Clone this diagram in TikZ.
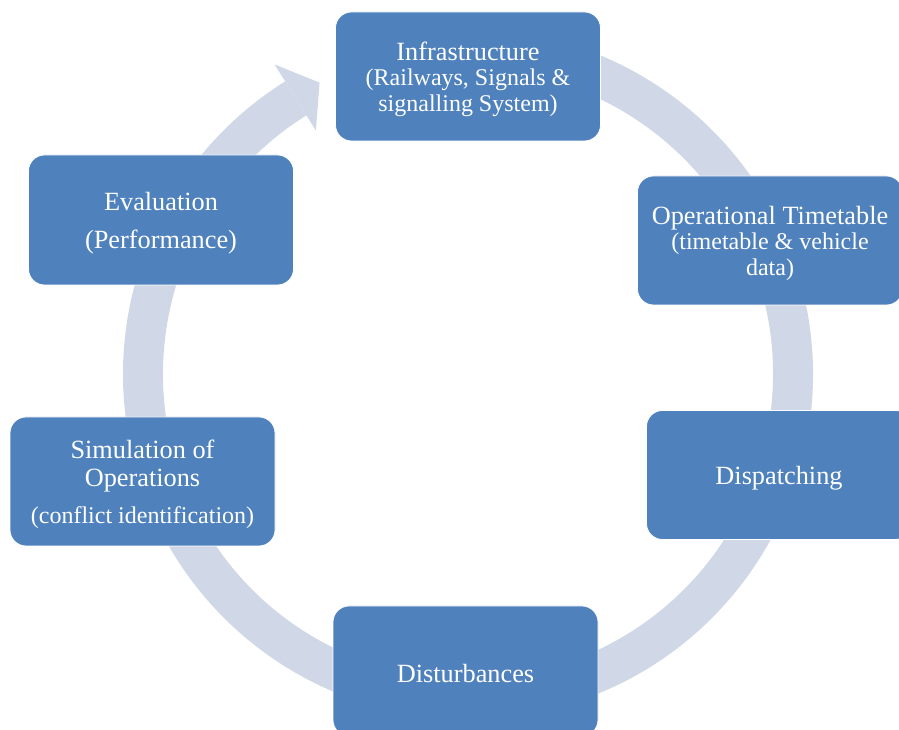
\documentclass[tikz,border=0pt]{standalone}
\usepackage{fontspec}
\setmainfont{Liberation Serif}
\usetikzlibrary{calc}
\definecolor{boxblue}{HTML}{4F81BD}
\definecolor{ringblue}{HTML}{D0D8E8}
\tikzset{
  stage/.style={rectangle, rounded corners=16pt, fill=boxblue, draw=white,
    line width=0.8pt, minimum width=265pt, minimum height=129pt,
    text=white, align=center, inner sep=0pt},
  big/.style={font=\fontsize{26.3}{#1}\selectfont},
}
\newcommand{\subline}{\fontsize{24}{25.5}\selectfont}
% raises the first line a little so the text block sits centred in the box
\newcommand{\topstrut}{\rule{0pt}{24pt}}
\begin{document}
\begin{tikzpicture}[x=1pt,y=1pt]
\clip (0,0) rectangle (899,730);
\fill[white] (0,0) rectangle (899,730);
% centre of the cycle ring
\coordinate (c) at (468,356);
% ring with its arrowhead, drawn behind the stages
\fill[ringblue] ($(c)+(100:345pt)$) arc[start angle=100, end angle=-238, radius=345pt]
  -- ($(c)+(-238:305pt)$) arc[start angle=-238, end angle=100, radius=305pt] -- cycle;
\fill[ringblue] ($(c)+(122:287pt)$) -- ($(c)+(117:327pt)$) -- ($(c)+(122:365pt)$) -- cycle;
% stages
\node[stage, big=25.5] (infra) at (468,653.5)
  {\topstrut Infrastructure\\ \subline(Railways, Signals \&\\ \subline signalling System)};
\node[stage, big=25.5] (timetable) at (770,489.5)
  {\topstrut Operational Timetable\\ \subline(timetable \& vehicle\\ \subline data)};
\node[stage, big=26] (dispatch) at (779,255) {\topstrut Dispatching};
\node[stage, big=26, minimum height=130pt] (disturb) at (465.5,59) {\topstrut Disturbances};
\node[stage, big=28] (sim) at (142.5,248.5)
  {\topstrut Simulation of\\ Operations\\[9pt] \subline(conflict identification)};
\node[stage, big=38, minimum height=130pt] (eval) at (161,510)
  {\topstrut Evaluation\\ (Performance)};
\end{tikzpicture}
\end{document}
